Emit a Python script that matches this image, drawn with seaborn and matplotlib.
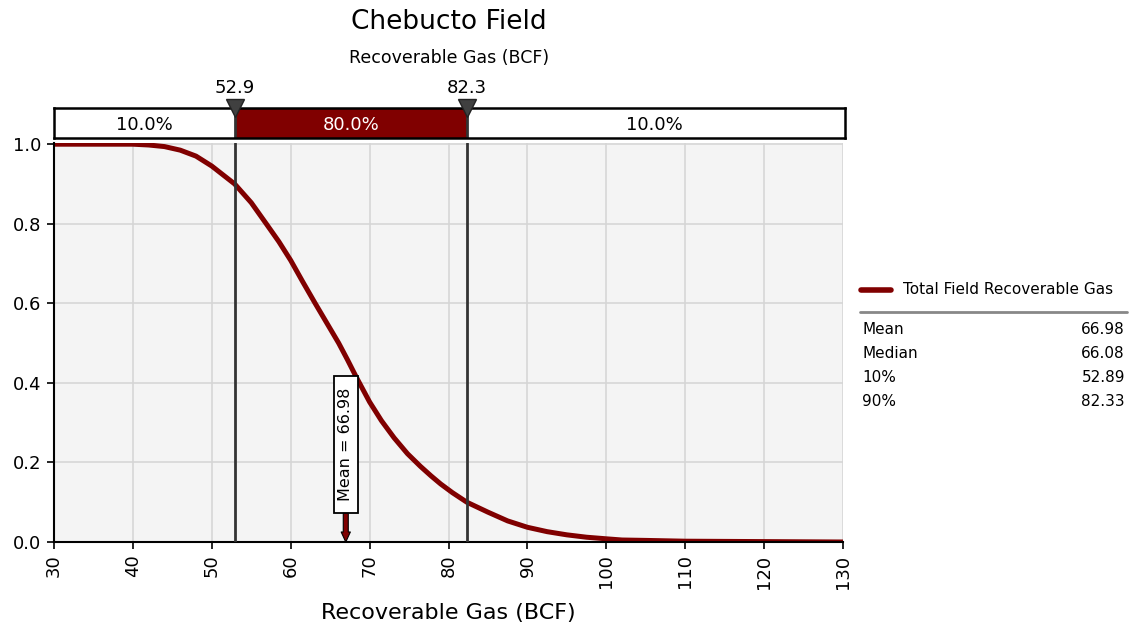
import matplotlib
matplotlib.use("Agg")
import matplotlib.pyplot as plt
from matplotlib.lines import Line2D
from matplotlib.patches import Rectangle
import numpy as np
import pandas as pd
import seaborn as sns

# Descending cumulative curve: recoverable gas (BCF) vs probability of exceedance
gas_bcf = [30, 40, 42, 44, 46, 48, 50, 52.9, 55, 56.9, 58.5, 60, 61.5, 63.1, 64.5,
           66.08, 67.2, 68.3, 70, 71.5, 73.1, 74.8, 76.45, 77.8, 79, 80.5, 82.33,
           85, 87.5, 90, 92.5, 95, 97.5, 100, 102, 105, 110, 120, 130]
exceed_prob = [1.0, 1.0, 0.998, 0.994, 0.985, 0.97, 0.945, 0.90, 0.853, 0.80, 0.755,
               0.708, 0.655, 0.60, 0.553, 0.50, 0.458, 0.415, 0.352, 0.305, 0.262,
               0.222, 0.19, 0.166, 0.146, 0.124, 0.10, 0.075, 0.053, 0.037, 0.026,
               0.018, 0.012, 0.008, 0.005, 0.004, 0.002, 0.001, 0.0]

# Delimiters and band shares
p10, p90 = 52.9, 82.3
band_edges = [30, p10, p90, 130]
band_labels = ["10.0%", "80.0%", "10.0%"]

# Summary statistics
stat_names = ["Mean", "Median", "10%", "90%"]
stat_values = ["66.98", "66.08", "52.89", "82.33"]
mean_value = 66.98

series_name = "Total Field Recoverable Gas"
DARK_RED = "#800000"
DELIM = "#333333"

sns.set_theme(style="whitegrid", rc={
    "axes.facecolor": "#f4f4f4",
    "grid.color": "#d6d6d6",
    "grid.linewidth": 1.2,
    "axes.edgecolor": "black",
    "text.color": "black",
    "axes.labelcolor": "black",
    "xtick.color": "black",
    "ytick.color": "black",
})
plt.rcParams["font.family"] = ["DejaVu Sans"]

W, H = 1133, 639
fig = plt.figure(figsize=(W / 100, H / 100), dpi=100)

def fx(px):
    return px / W

def fy(py):
    return 1 - py / H

# Main axes
ax = fig.add_axes([fx(54), fy(542), fx(843) - fx(54), fy(143) - fy(542)])
df = pd.DataFrame({"gas": gas_bcf, "prob": exceed_prob})
sns.lineplot(data=df, x="gas", y="prob", ax=ax, color=DARK_RED, linewidth=3.6,
             legend=False)
ax.set_xlim(30, 130)
ax.set_ylim(0, 1.003)
ax.set_xticks(np.arange(30, 131, 10))
ax.set_yticks(np.arange(0, 1.01, 0.2))
ax.set_yticklabels([f"{v:.1f}" for v in np.arange(0, 1.01, 0.2)], fontsize=13)
ax.set_xticklabels([str(v) for v in range(30, 131, 10)], rotation=90, fontsize=13)
ax.set_xlabel("Recoverable Gas (BCF)", fontsize=16, labelpad=10)
ax.set_ylabel("")
ax.tick_params(axis="both", which="major", length=5, width=1.2, color="black",
               bottom=True, left=True, pad=4)
for side in ["top", "right"]:
    ax.spines[side].set_visible(False)
for side in ["left", "bottom"]:
    ax.spines[side].set_linewidth(1.5)
    ax.spines[side].set_color("black")

for xv in (p10, p90):
    ax.axvline(xv, color=DELIM, linewidth=2, zorder=4)

# Mean marker: boxed vertical label with a small arrow down to the axis
box_w, box_lo, box_hi = 3.04, 0.072, 0.417
ax.add_patch(Rectangle((mean_value - box_w / 2, box_lo), box_w, box_hi - box_lo,
                       facecolor="white", edgecolor="black", lw=1.3, zorder=6))
ax.text(mean_value, (box_lo + box_hi) / 2, f"Mean = {mean_value:.2f}", rotation=90,
        ha="center", va="center", fontsize=11.5, zorder=7)
ax.annotate("", xy=(mean_value, 0.0), xytext=(mean_value, box_lo),
            arrowprops=dict(arrowstyle="simple,head_width=0.55,head_length=0.6,tail_width=0.3",
                            fc=DARK_RED, ec="black", lw=0.8, shrinkA=0, shrinkB=0),
            zorder=6)

# Delimiter band above the plot
bax = fig.add_axes([fx(54), fy(138), fx(845) - fx(54), fy(108) - fy(138)])
bax.set_xlim(30, 30 + 100 * (845 - 54) / (843 - 54))
bax.set_ylim(0, 1)
bax.set_facecolor("white")
bax.grid(False)
bax.set_xticks([])
bax.set_yticks([])
for s in bax.spines.values():
    s.set_visible(True)
    s.set_color("black")
    s.set_linewidth(1.8)
for i, lab in enumerate(band_labels):
    lo, hi = band_edges[i], band_edges[i + 1]
    if i == 1:
        bax.barh(0.5, hi - lo, left=lo, height=1, color=DARK_RED, edgecolor="none")
        tc = "white"
    else:
        tc = "black"
    bax.text((lo + hi) / 2, 0.45, lab, ha="center", va="center", fontsize=13, color=tc)
for xv in (p10, p90):
    bax.axvline(xv, color=DELIM, linewidth=2)
    bax.plot([xv], [1.0], marker="v", markersize=13, color="#404040",
             markeredgecolor="#222222", clip_on=False, zorder=10)
    bax.text(xv, 1.67, f"{xv:.1f}", ha="center", va="center", fontsize=13,
             clip_on=False)

# Titles
fig.text(fx(449), fy(22), "Chebucto Field", ha="center", va="center", fontsize=19)
fig.text(fx(449), fy(58), "Recoverable Gas (BCF)", ha="center", va="center", fontsize=12.5)

# Legend and statistics
fig.add_artist(Line2D([fx(861), fx(891)], [fy(290), fy(290)], color=DARK_RED, lw=4))
fig.text(fx(903), fy(290), series_name, ha="left", va="center", fontsize=11)
fig.add_artist(Line2D([fx(860), fx(1127)], [fy(312), fy(312)], color="#888888", lw=2))
for i, (nm, val) in enumerate(zip(stat_names, stat_values)):
    yy = fy(330 + i * 23.7)
    fig.text(fx(862), yy, nm, ha="left", va="center", fontsize=11)
    fig.text(fx(1125), yy, val, ha="right", va="center", fontsize=11)

fig.savefig("out.png", dpi=100, facecolor="white")
